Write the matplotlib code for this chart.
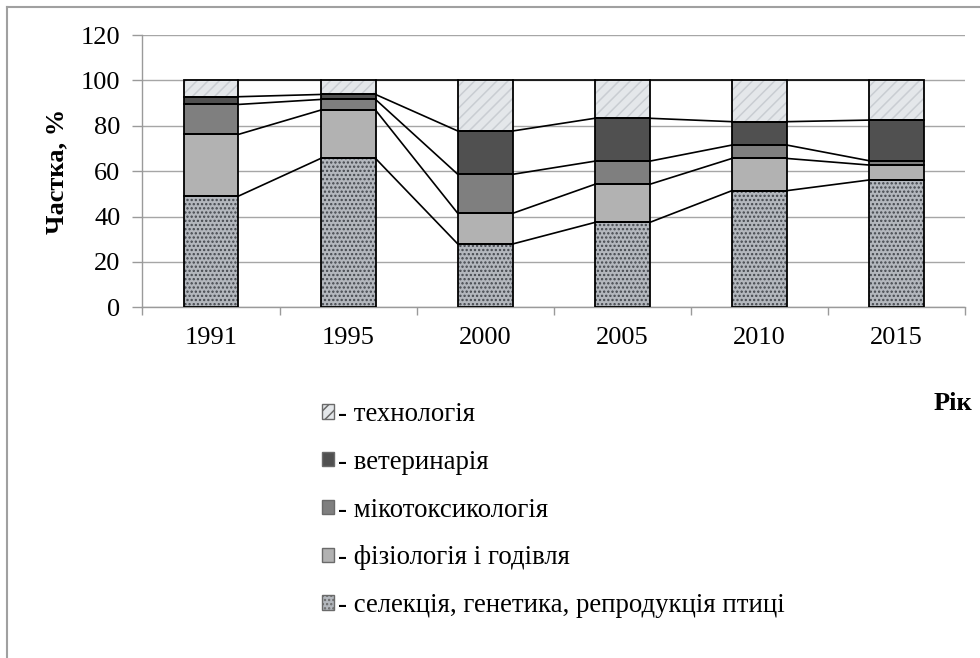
import numpy as np
import matplotlib
matplotlib.use('agg')
from matplotlib import pyplot as plt
from matplotlib.patches import Patch
from matplotlib.lines import Line2D

years = ['1991', '1995', '2000', '2005', '2010', '2015']
selection = [49.0, 65.6, 27.9, 37.4, 51.4, 56.1]
physiology = [27.2, 21.3, 13.5, 16.8, 14.2, 6.6]
mycotox = [13.2, 4.7, 17.2, 10.2, 5.9, 1.9]
veterinary = [3.4, 2.2, 19.1, 18.9, 10.3, 17.9]
technology = [7.2, 6.2, 22.3, 16.7, 18.2, 17.5]

labels = ['селекція, генетика, репродукція птиці', 'фізіологія і годівля',
          'мікотоксикологія', 'ветеринарія', 'технологія']

plt.rcParams['font.family'] = ['Liberation Serif', 'DejaVu Serif']
plt.rcParams['hatch.linewidth'] = 1.1

# face colour, hatch, hatch colour for each series (bottom -> top)
styles = [('#b3b7bd', '....', '#43474d'),
          ('#b2b2b2', None, None),
          ('#7f7f7f', None, None),
          ('#505050', None, None),
          ('#e4e7ea', '///', '#c9cdd2')]

fig = plt.figure(figsize=(9.8, 6.58), dpi=100)
ax = fig.add_axes([0.1454, 0.533, 0.8393, 0.4138])

series = [selection, physiology, mycotox, veterinary, technology]
x = np.arange(len(years))
w = 0.4
bottom = np.zeros(len(years))
tops = []
for vals, (fc, hatch, hc) in zip(series, styles):
    vals = np.array(vals)
    if hatch:
        ax.bar(x, vals, w, bottom=bottom, color=fc, hatch=hatch,
               edgecolor=hc, linewidth=0, zorder=2)
    else:
        ax.bar(x, vals, w, bottom=bottom, color=fc, linewidth=0, zorder=2)
    ax.bar(x, vals, w, bottom=bottom, fill=False, edgecolor='black',
           linewidth=1.3, zorder=3)
    bottom = bottom + vals
    tops.append(bottom.copy())

# series lines between neighbouring bars
for t in tops:
    for i in range(len(years) - 1):
        ax.plot([x[i] + w / 2, x[i + 1] - w / 2], [t[i], t[i + 1]],
                color='black', linewidth=1.2, zorder=3)

ax.set_xlim(-0.5, len(years) - 0.5)
ax.set_ylim(0, 120)
ax.set_yticks(np.arange(0, 121, 20))
ax.grid(axis='y', color='#a6a6a6', linewidth=1.0, zorder=0)
for s in ['top', 'right']:
    ax.spines[s].set_visible(False)
for s in ['left', 'bottom']:
    ax.spines[s].set_color('#9a9a9a')
    ax.spines[s].set_linewidth(1.0)

ax.set_xticks(np.arange(-0.5, len(years), 1.0))
ax.set_xticklabels([])
ax.set_xticks(x, minor=True)
ax.set_xticklabels(years, minor=True)
ax.tick_params(axis='x', which='major', direction='out', length=6,
               color='#9a9a9a', width=1.0)
ax.tick_params(axis='x', which='minor', length=0, pad=14, labelsize=19)
ax.tick_params(axis='y', direction='out', length=7, color='#9a9a9a',
               width=1.0, pad=9, labelsize=19)

ax.set_ylabel('Частка, %', fontsize=19, fontweight='bold')
ax.yaxis.set_label_coords(-0.09, 0.5)

fig.text(953 / 980, 1 - 404 / 658, 'Рік', fontsize=19, fontweight='bold',
         ha='center', va='center')

handles = []
for fc, hatch, hc in styles[::-1]:
    if hatch:
        handles.append(Patch(facecolor=fc, edgecolor='#6a6a6a', hatch=hatch,
                             linewidth=1.0))
    else:
        handles.append(Patch(facecolor=fc, edgecolor='#6a6a6a', linewidth=1.0))
fig.legend(handles, ['- ' + l for l in labels[::-1]], loc='upper left',
           bbox_to_anchor=(322 / 980, 1 - 402 / 658), frameon=False,
           fontsize=19.3, handlelength=0.45, handleheight=0.45,
           handletextpad=0.15, labelspacing=0.85, borderpad=0,
           borderaxespad=0)

# outer frame (only left and top edges visible)
fig.add_artist(Line2D([7 / 980, 7 / 980], [0, 1 - 7 / 658],
                      transform=fig.transFigure, color='#a0a0a0', linewidth=1.5))
fig.add_artist(Line2D([7 / 980, 1], [1 - 7 / 658, 1 - 7 / 658],
                      transform=fig.transFigure, color='#a0a0a0', linewidth=1.5))

fig.savefig('out.png', dpi=100)
